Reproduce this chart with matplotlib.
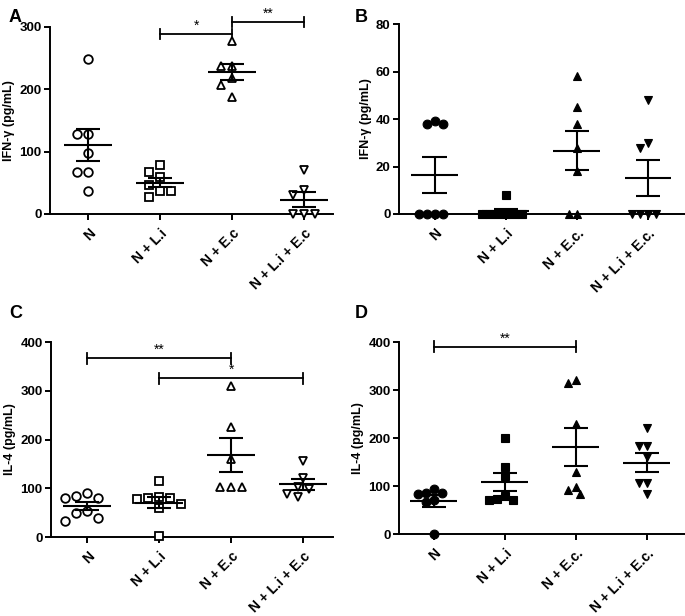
import numpy as np
import matplotlib
matplotlib.use("Agg")
import matplotlib.pyplot as plt

plt.rcParams['font.family'] = ['Liberation Sans', 'DejaVu Sans']
plt.rcParams['font.weight'] = 'bold'

groups_ac = ["N", "N + L.i", "N + E.c", "N + L.i + E.c"]
groups_bd = ["N", "N + L.i", "N + E.c.", "N + L.i + E.c."]

# IFN-gamma, open markers
ifn_a = [
    [249, 128, 128, 98, 67, 67, 37],
    [79, 67, 59, 47, 37, 37, 27],
    [278, 238, 238, 218, 207, 188],
    [70, 38, 30, 0, 0, 0],
]
# IFN-gamma, filled markers
ifn_b = [
    [39, 38, 38, 0, 0, 0, 0],
    [8, 0, 0, 0, 0, 0, 0],
    [58, 45, 38, 28, 18, 0, 0],
    [48, 30, 28, 0, 0, 0, 0],
]
# IL-4, open markers
il4_c = [
    [90, 84, 80, 80, 53, 49, 39, 33],
    [115, 82, 80, 80, 78, 68, 60, 3],
    [310, 226, 160, 103, 103, 103],
    [156, 121, 103, 98, 88, 82],
]
# IL-4, filled markers
il4_d = [
    [93, 85, 85, 83, 71, 67, 0],
    [200, 140, 121, 79, 73, 71, 70],
    [321, 315, 229, 130, 98, 92, 83],
    [220, 183, 183, 160, 106, 106, 83],
]

# significance brackets: (group i, group j, height, label)
sig_a = [(1, 2, 289, '*'), (2, 3, 308, '**')]
sig_c = [(0, 2, 367, '**'), (1, 3, 326, '*')]
sig_d = [(0, 2, 390, '**')]

markers = ['o', 's', '^', 'v']

panels = [
    dict(tag='A', data=ifn_a, groups=groups_ac, filled=False, ylim=300,
         yticks=[0, 100, 200, 300], ylabel='IFN-γ (pg/mL)',
         rect=[0.073, 0.6526, 0.413, 0.3036], sig=sig_a, xlim=(-0.53, 3.4),
         tagpos=(0.012, 0.985)),
    dict(tag='B', data=ifn_b, groups=groups_bd, filled=True, ylim=80,
         yticks=[0, 20, 40, 60, 80], ylabel='IFN-γ (pg/mL)',
         rect=[0.5825, 0.6526, 0.4175, 0.3084], sig=[], xlim=(-0.5, 3.52),
         tagpos=(0.518, 0.985)),
    dict(tag='C', data=il4_c, groups=groups_ac, filled=False, ylim=400,
         yticks=[0, 100, 200, 300, 400], ylabel='IL-4 (pg/mL)',
         rect=[0.0745, 0.1282, 0.412, 0.3166], sig=sig_c, xlim=(-0.5, 3.42),
         tagpos=(0.014, 0.505)),
    dict(tag='D', data=il4_d, groups=groups_bd, filled=True, ylim=400,
         yticks=[0, 100, 200, 300, 400], ylabel='IL-4 (pg/mL)',
         rect=[0.5825, 0.1331, 0.4175, 0.3117], sig=sig_d, xlim=(-0.49, 3.54),
         tagpos=(0.518, 0.505)),
]


def swarm_offsets(ax, values, diam=10.0, step=5.5):
    # simple beeswarm in pixel space, returns x offsets in data units
    p0 = ax.transData.transform((0, 0))
    p1 = ax.transData.transform((1, 1))
    px_x = abs(p1[0] - p0[0])
    px_y = abs(p1[1] - p0[1])
    placed = []
    offs = []
    for v in values:
        y = v * px_y
        cands = [0.0]
        for k in range(1, 30):
            cands += [-k * step, k * step]
        for c in cands:
            if all((c - px) ** 2 + (y - py) ** 2 >= diam ** 2 for px, py in placed):
                break
        placed.append((c, y))
        offs.append(c / px_x)
    return offs


fig = plt.figure(figsize=(6.85, 6.16), dpi=100)

for p in panels:
    ax = fig.add_axes(p['rect'])
    ax.set_xlim(*p['xlim'])
    ax.set_ylim(0, p['ylim'])
    for s in ['top', 'right']:
        ax.spines[s].set_visible(False)
    for s in ['left', 'bottom']:
        ax.spines[s].set_linewidth(1.4)

    for i, vals in enumerate(p['data']):
        vals = np.array(vals, dtype=float)
        if p['filled']:
            offs = swarm_offsets(ax, vals, diam=8.0, step=4.0)
            ax.plot(i + np.array(offs), vals, linestyle='none', marker=markers[i],
                    ms=6.3, mfc='black', mec='black', mew=0.8, clip_on=False, zorder=3)
        else:
            offs = swarm_offsets(ax, vals)
            ax.plot(i + np.array(offs), vals, linestyle='none', marker=markers[i],
                    ms=6.2, mfc='white', mec='black', mew=1.3, clip_on=False, zorder=3)
        m = vals.mean()
        sem = vals.std(ddof=1) / np.sqrt(len(vals))
        ax.hlines(m, i - 0.33, i + 0.33, color='black', lw=1.5, zorder=4)
        ax.vlines(i, m - sem, m + sem, color='black', lw=1.5, zorder=4)
        ax.hlines([m - sem, m + sem], i - 0.17, i + 0.17, color='black', lw=1.5, zorder=4)

    h = p['ylim'] * 0.028
    for a, b, y, lab in p['sig']:
        ax.plot([a, b], [y, y], color='black', lw=1.3, clip_on=False)
        ax.plot([a, a], [y - h, y + h], color='black', lw=1.3, clip_on=False)
        ax.plot([b, b], [y - h, y + h], color='black', lw=1.3, clip_on=False)
        ax.text((a + b) / 2, y + h * 0.2, lab, ha='center', va='bottom',
                fontsize=10, fontweight='normal')

    ax.set_yticks(p['yticks'])
    ax.set_xticks(range(len(p['groups'])))
    ax.set_xticklabels(p['groups'], rotation=45, ha='right',
                       rotation_mode='anchor', fontsize=10, fontweight='bold')
    ax.tick_params(axis='both', direction='out', length=4, width=1.4,
                   labelsize=9.5, pad=2)
    ax.tick_params(axis='x', labelsize=10, pad=5)
    for t in ax.get_yticklabels():
        t.set_fontweight('bold')
    ax.set_ylabel(p['ylabel'], fontsize=9, fontweight='bold', labelpad=3)

    fig.text(p['tagpos'][0], p['tagpos'][1], p['tag'], fontsize=13,
             fontweight='bold', ha='left', va='top')

fig.savefig('out.png', dpi=100)
